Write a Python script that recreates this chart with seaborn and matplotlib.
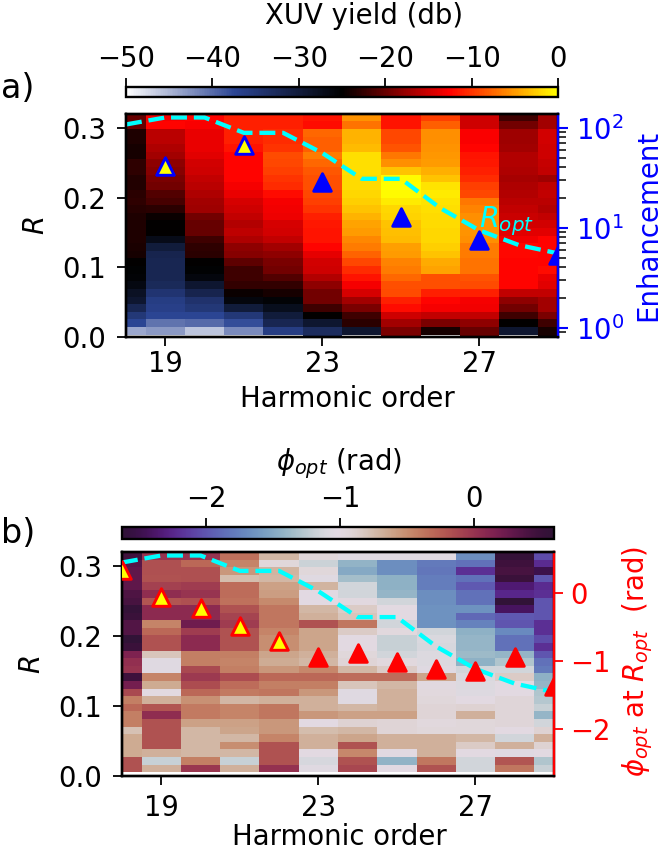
import numpy as np
import pandas as pd
import matplotlib
matplotlib.use("Agg")
import matplotlib.pyplot as plt
from matplotlib.colors import LinearSegmentedColormap
import seaborn as sns

W, H = 661, 850
FS = 19.8
sns.set_style("ticks")
plt.rcParams.update({"font.family": ["DejaVu Sans"], "mathtext.fontset": "dejavusans",
                     "font.size": FS, "axes.linewidth": 1.7,
                     "xtick.major.width": 1.3, "ytick.major.width": 1.3,
                     "xtick.major.size": 6.6, "ytick.major.size": 6.6,
                     "xtick.color": "black", "ytick.color": "black",
                     "axes.edgecolor": "black", "text.color": "black",
                     "axes.labelcolor": "black"})

orders = list(range(18, 30))
nan = float("nan")

# XUV yield (dB), bottom row to top row
y18 = [-50,-44,-37.5,-35,-32,-29,-28,-26.5,-25.5,-25.2,-25,-24,-23.8,-23.5,-23.5,-23.5,-23.5,-23.2,-22.8,-23,-23.3,-23.3,-22.8,-22.8,-24,-24,-23.5,-23.5,-20,-20]
y19 = [-50,-43,-40.5,-37.5,-36.5,-36,-34.5,-32.5,-32,-32,-32,-31.5,-30,-27,-25,-25,-24.5,-23,-21.5,-21,-19.5,-19,-18.5,-18,-17,-16.5,-16,-16,-12.5,-13]
y20 = [-50,-46,-40,-37.5,-35,-34,-31.5,-29,-26,-25.3,-25,-23,-22.8,-22,-20,-20,-19.5,-17.2,-17,-16.5,-16,-15.5,-15,-14.8,-14,-13.5,-13.5,-13.5,-12.8,-12.5]
y21 = [-50,-42,-38,-35,-30,-26,-24.5,-22.5,-22,-22,-20.5,-18.5,-18,-16.5,-15.8,-16.4,-15.5,-15,-14.5,-13.5,-13,-12.5,-12.5,-12.5,-12.5,-11.7,-11,-11,-11,-11]
y22 = [-50,-36,-32,-30,-27.5,-25.5,-24,-22.5,-21,-19.5,-19,-18,-17,-15.5,-14.8,-14.5,-13.3,-13.2,-13,-12,-10.5,-10,-9.5,-9,-8.8,-10,-10.5,-10.5,-11,-11]
y23 = [-33,-33,-29,-25,-22,-19.5,-19.5,-18,-16.4,-15,-14.8,-13.7,-12.5,-11.7,-11.7,-11.5,-11,-10,-9.4,-9,-8.6,-8.6,-8.3,-7.5,-6.5,-8,-8,-7.5,-12,-11.7]
y24 = [-50,-29,-23,-22,-19,-17,-14.5,-13,-11.7,-10.5,-9,-7.8,-6.5,-6,-5,-4.5,-3.9,-3,-2.5,-2,-1.9,-1.9,-1.7,-1.7,-1.7,-3.5,-3.8,-3.8,-7,-5.4]
y25 = [-19,-19,-17,-15,-12,-11,-8.8,-8.6,-7.5,-6.5,-6.2,-5,-4.7,-3.5,-3.3,-3,-2.3,-2,-1,-0.3,0,-0.3,-3,-5.5,-6.7,-8.5,-9,-9,-11.7,-11.7]
y26 = [-50,-24,-19,-15.5,-13,-12.5,-11,-8.6,-8.6,-4.5,-4.2,-3,-2.5,-2,-2,-1.9,-1.9,-1.7,-1.5,-1,-1.5,-3,-4,-5,-5.2,-5.4,-5.6,-5.6,-8,-9.4]
y27 = [-20,-20,-18,-15.6,-13.2,-13,-11,-8.8,-8.5,-7,-7,-6.5,-6.5,-5.5,-5.4,-5.4,-5.6,-6.2,-6.7,-9,-9.5,-10.5,-11,-11.5,-11.7,-12.5,-12.8,-12.8,-15,-15]
y28 = [-50,-29,-25,-22,-19.5,-18,-15.6,-12.5,-12.5,-12.5,-12.5,-12.3,-12.3,-13.2,-14,-14.8,-15.2,-15.6,-16,-16.4,-16.6,-16.8,-16.5,-16.4,-16.4,-17,-17.2,-17.2,-19.5,-22]
y29 = [-24,-24,-22,-19,-17,-17,-15.6,-14,-13.5,-12,-12.5,-12.5,-12.5,-12.5,-14,-14.8,-15.5,-16.4,-16,-15.6,-15.8,-17.2,-15.6,-15.4,-15,-15,-14.8,-14.8,-17,-17]

# phase (rad), top row to bottom row
p18 = [.45,.34,.3,.3,.3,.38,.42,.55,.5,.36,.36,.58,.5,.15,.03,0,.47,.2,-.13,-.42,-.3,-.42,-.42,-.78,-.65,-.65,-.65,-.18,-.18,nan]
p19 = [0,-.17,-.17,-.18,-.08,.05,-.2,.07,.07,-.45,-.3,-.18,-.18,-.8,-1.05,-1.05,-.45,-.65,-1.0,-.68,-.2,.05,-.18,-.18,-.18,-.18,-.68,-1.2,-.68,nan]
p20 = [0,-.3,-.17,-.17,-.05,0,-.17,.07,.07,.22,-.05,.07,.07,-.42,-.42,-.13,-.03,-.15,-.3,-.52,-.4,-.4,-.6,-.72,-.72,-.72,-.72,-.42,-.02,nan]
p21 = [-.35,-.45,-.55,-.75,-.33,-.33,-.35,-.18,-.1,-.05,-.18,-.18,-.18,-.42,-.45,-.42,-.15,-.33,-.4,-.72,-.45,-.45,-.6,-.62,-.72,-.5,-.72,-1.2,-.68,nan]
p22 = [-.72,-.95,-.7,-.72,-.6,-.58,-.48,-.38,-.38,-.38,-.45,-.5,-.5,-.62,-.66,-.55,-.3,-.42,-.37,-.68,-.38,-.38,-.55,-.55,-.45,-.18,-.18,-.18,.02,nan]
p23 = [-.95,-1.18,-.95,-1.05,-.7,-1.02,-1.02,-.72,-.68,-.18,-.62,-.62,-.62,-.68,-.72,-.47,-.3,-.42,-.55,-.68,-.68,-.55,-1.02,-.75,-.68,-.68,-1.0,-1.12,-1.05,nan]
p24 = [-1.05,-1.43,-1.5,-1.35,-1.15,-1.15,-.98,-.85,-.8,-.38,-.85,-1.0,-1.0,-.95,-.92,-.72,-.33,-.8,-1.05,-1.05,-.72,-.6,-.9,-.72,-.62,-.18,-.47,-.18,-.12,nan]
p25 = [-1.05,-1.68,-1.68,-1.45,-1.45,-1.42,-1.15,-1.0,-1.0,-1.15,-.97,-1.2,-1.2,-1.15,-.97,-.85,-.33,-.72,-.68,-.68,-.68,-.6,-.92,-.92,-.68,-.68,-1.0,-1.43,-1.02,nan]
p26 = [-1.05,-1.8,-1.82,-1.78,-1.78,-1.68,-1.68,-1.65,-1.65,-1.65,-1.15,-1.1,-1.12,-1.08,-1.08,-1.05,-.62,-.98,-.97,-.95,-.92,-.92,-.97,-.95,-.68,-.68,-.68,-.38,-.18,nan]
p27 = [-1.68,-1.85,-2.2,-1.85,-1.98,-1.85,-1.85,-1.65,-1.9,-1.75,-1.45,-1.42,-1.42,-1.38,-1.45,-1.15,-1.1,-1.08,-1.07,-1.0,-.9,-.68,-.95,-.95,-.72,-.85,-1.0,-1.15,-1.15,nan]
p28 = [.55,.47,.42,.5,-2.35,-2.25,.58,-2.42,-1.98,-2.0,-1.7,-1.85,-1.85,-1.42,-1.3,-1.15,-.85,-1.0,-1.0,-.93,-.93,-.93,-.93,-1.0,-1.15,-.68,-1.05,-.2,-.38,nan]
p29 = [-2.05,-2.22,-2.5,-2.0,-2.22,-2.2,-2.0,-2.0,-2.0,-2.2,-2.2,-2.05,-2.2,-2.0,-1.85,-1.8,-1.45,-1.42,-1.3,-1.28,-1.2,-1.42,-1.15,-.9,-.68,-.9,-1.0,-1.3,-1.2,nan]

r_opt = [.305,.315,.315,.293,.293,.264,.227,.227,.185,.153,.132,.12]
enh_orders = [19, 21, 23, 25, 27, 29]
enhancement = [41.4, 67, 28.7, 12.8, 7.5, 5.3]
phi_opt = [.344,-.05,-.21,-.478,-.703,-.93,-.885,-1.008,-1.12,-1.14,-.944,-1.367]

x_ticks = [19, 23, 27]
r_ticks = [0.0, 0.1, 0.2, 0.3]
yield_ticks = [-50, -40, -30, -20, -10, 0]
phase_ticks = [-2, -1, 0]
phi_ticks = [-2, -1, 0]
enh_ticks = [1, 10, 100]

yield_matrix = np.array([y18,y19,y20,y21,y22,y23,y24,y25,y26,y27,y28,y29]).T
phase_matrix = np.array([p18,p19,p20,p21,p22,p23,p24,p25,p26,p27,p28,p29]).T[::-1]
r_grid_a = -0.0021 + 0.01093 * np.arange(30)
r_grid_b = 0.01085 * np.arange(30)

cmap_a = LinearSegmentedColormap.from_list("xuv", ["white", (0.17, 0.27, 0.58), "black", "red", "yellow"])
cmap_b = plt.get_cmap("twilight_shifted").copy()
cmap_b.set_bad("white")


def axes_px(fig, l, t, r, b):
    return fig.add_axes([l / W, 1 - b / H, (r - l) / W, (b - t) / H])


def place_x(axis, x, y):
    axis.set_label_coords(x / W, 1 - y / H, transform=fig.transFigure)


fig = plt.figure(figsize=(W / 100, H / 100), dpi=100)
ax_a = axes_px(fig, 126, 114, 558, 337)
cax_a = axes_px(fig, 126, 87, 558, 97)
ax_b = axes_px(fig, 122, 552, 554, 776)
cax_b = axes_px(fig, 122, 527, 554, 539)


def dashed(ax):
    df = pd.DataFrame({"order": orders, "R": r_opt})
    sns.lineplot(data=df, x="order", y="R", ax=ax, color="cyan", lw=3.1,
                 linestyle="--", zorder=3, legend=False)


MS = 160
LW = 2.1

# Panel a
m_a = ax_a.pcolormesh(orders, r_grid_a, yield_matrix, cmap=cmap_a, vmin=-50, vmax=0, shading="nearest")
dashed(ax_a)
ax_a.set(xlim=(18, 29), ylim=(0, 0.32), xticks=x_ticks, yticks=r_ticks)
ax_a.set_xlabel("Harmonic order", va="baseline")
ax_a.set_ylabel("$R$", va="center")
place_x(ax_a.xaxis, 347.5, 407)
place_x(ax_a.yaxis, 36, 226)
ax_a.tick_params(axis="x", pad=3)
ax_a.tick_params(axis="y", pad=7.5)
ax_a.text(27.0, 0.157, "$R_{opt}$", color="cyan", fontsize=20.5, zorder=5)

tw_a = ax_a.twinx()
tw_a.set_yscale("log")
df_e = pd.DataFrame({"order": enh_orders, "E": enhancement})
sns.scatterplot(data=df_e[df_e.order < 23], x="order", y="E", ax=tw_a, marker="^", s=MS,
                color="yellow", edgecolor="blue", linewidth=LW, zorder=6, legend=False)
sns.scatterplot(data=df_e[df_e.order >= 23], x="order", y="E", ax=tw_a, marker="^", s=MS,
                color="blue", edgecolor="blue", linewidth=LW, zorder=6, legend=False)
tw_a.set(xlim=(18, 29), ylim=(0.807, 137))
tw_a.set_yticks(enh_ticks)
tw_a.tick_params(axis="y", which="major", colors="blue", length=7.2, width=1.5, pad=6)
tw_a.tick_params(axis="y", which="minor", color="black", length=5.4, width=1.1)
tw_a.spines["right"].set_color("blue")
tw_a.set_ylabel("Enhancement", color="blue", va="center")
place_x(tw_a.yaxis, 648, 225)

cb_a = fig.colorbar(m_a, cax=cax_a, orientation="horizontal")
cb_a.set_ticks(yield_ticks)
cax_a.xaxis.set_ticks_position("top")
cax_a.xaxis.set_label_position("top")
cb_a.set_label("XUV yield (db)", va="baseline")
place_x(cax_a.xaxis, 364.5, 24)

# Panel b
m_b = ax_b.pcolormesh(orders, r_grid_b, phase_matrix, cmap=cmap_b, vmin=-2.63, vmax=0.6, shading="nearest")
dashed(ax_b)
ax_b.set(xlim=(18, 29), ylim=(0, 0.32), xticks=x_ticks, yticks=r_ticks)
ax_b.set_xlabel("Harmonic order", va="baseline")
ax_b.set_ylabel("$R$", va="center")
place_x(ax_b.xaxis, 339, 845)
place_x(ax_b.yaxis, 32, 665)
ax_b.tick_params(axis="x", pad=6)
ax_b.tick_params(axis="y", pad=7.5)

tw_b = ax_b.twinx()
df_p = pd.DataFrame({"order": orders, "phi": phi_opt})
sns.scatterplot(data=df_p[df_p.order < 23], x="order", y="phi", ax=tw_b, marker="^", s=MS,
                color="yellow", edgecolor="red", linewidth=LW, zorder=6, legend=False)
sns.scatterplot(data=df_p[df_p.order >= 23], x="order", y="phi", ax=tw_b, marker="^", s=MS,
                color="red", edgecolor="red", linewidth=LW, zorder=6, legend=False)
tw_b.set(xlim=(18, 29), ylim=(-2.69, 0.61), yticks=phi_ticks)
tw_b.tick_params(axis="y", colors="red", pad=5)
tw_b.spines["right"].set_color("red")
tw_b.set_ylabel(r"$\phi_{opt}$ at $R_{opt}$  (rad)", color="red", va="center")
place_x(tw_b.yaxis, 637.5, 661.5)

cb_b = fig.colorbar(m_b, cax=cax_b, orientation="horizontal")
cb_b.set_ticks(phase_ticks)
cax_b.xaxis.set_ticks_position("top")
cax_b.xaxis.set_label_position("top")
cb_b.set_label(r"$\phi_{opt}$ (rad)", va="baseline")
place_x(cax_b.xaxis, 338.5, 470)

fig.text(1 / W, 1 - 98 / H, "a)", fontsize=24, va="baseline")
fig.text(1 / W, 1 - 543 / H, "b)", fontsize=24, va="baseline")

fig.savefig("out.png", dpi=100)
